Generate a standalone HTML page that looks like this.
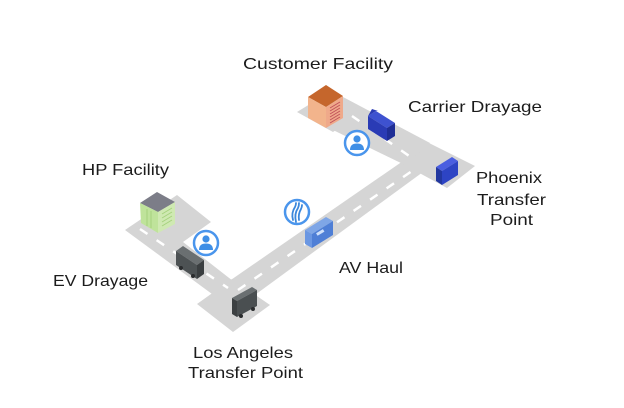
<!DOCTYPE html>
<html><head><meta charset="utf-8"><style>
html,body{margin:0;padding:0;background:#fff;}
svg{display:block;}
text{font-family:"Liberation Sans",Arial,sans-serif;font-size:16px;fill:#1c1c1c;}
</style></head><body>
<svg width="624" height="408" viewBox="0 0 624 408" xmlns="http://www.w3.org/2000/svg">
<rect width="624" height="408" fill="#fff"/>
<!-- roads & lots -->
<g fill="#d5d5d5">
  <polygon points="125,230 177,195 211,222 183,242 233,281 212,294"/>
  <polygon points="197,304 232,279 270,305 233,332"/>
  <polygon points="225,284 403,161 423,172 248,300"/>
  <polygon points="427,142 475,166 447,188 401,163"/>
  <polygon points="343,97 430,143 405,165 333,130"/>
  <polygon points="297,112 328,93 362,112 333,132"/>
</g>
<!-- dashes -->
<g stroke="#fff" stroke-width="2.5" fill="none" stroke-dasharray="9 11">
  <line x1="140" y1="229" x2="228" y2="288"/>
  <line x1="238" y1="290" x2="412" y2="171"/>
  <line x1="352" y1="116" x2="412" y2="158"/>
</g>
<!-- HP building -->
<polygon points="140,203 157,192 175,202 158,212" fill="#7c7d88"/>
<polygon points="140,203 158,212 158,233 141,223" fill="#bfe39b"/>
<polygon points="158,212 175,202 175,224 158,233" fill="#cfe9b2"/>
<g stroke="#a6d27e" stroke-width="1">
  <line x1="147" y1="209" x2="147" y2="226"/><line x1="151" y1="211" x2="151" y2="228"/>
  <line x1="162" y1="214" x2="172" y2="208"/><line x1="162" y1="218" x2="172" y2="212"/>
  <line x1="162" y1="222" x2="172" y2="216"/><line x1="162" y1="226" x2="172" y2="220"/>
</g>
<!-- Customer building -->
<polygon points="308,97 326,85 343,96 326,107" fill="#c5662c"/>
<polygon points="308,97 326,107 326,128 308,118" fill="#f2b48c"/>
<polygon points="326,107 343,96 343,118 326,128" fill="#efa98a"/>
<g stroke="#c0505a" stroke-width="0.9">
  <line x1="330" y1="108" x2="340" y2="102"/><line x1="330" y1="111" x2="340" y2="105"/>
  <line x1="330" y1="114" x2="340" y2="108"/><line x1="330" y1="117" x2="340" y2="111"/>
  <line x1="330" y1="120" x2="340" y2="114"/><line x1="330" y1="123" x2="340" y2="117"/>
</g>
<!-- EV truck (dark gray) -->
<polygon points="176,251 183,246 204,260 197,265" fill="#6a6f71"/>
<polygon points="176,251 197,265 197,279 176,265" fill="#4d5254"/>
<polygon points="197,265 204,260 204,274 197,279" fill="#3a3e40"/>
<circle cx="181" cy="268" r="2" fill="#2a2c2e"/><circle cx="193" cy="276" r="2" fill="#2a2c2e"/>
<!-- LA truck -->
<polygon points="232,298 252,287 257,290 237,301" fill="#6a6f71"/>
<polygon points="237,301 257,290 257,306 237,317" fill="#4a4f51"/>
<polygon points="232,298 237,301 237,317 232,314" fill="#3c4042"/>
<circle cx="241" cy="316" r="2" fill="#2a2c2e"/><circle cx="253" cy="309" r="2" fill="#2a2c2e"/>
<!-- AV truck (blue) -->
<polygon points="305,230 326,217 333,221 312,234" fill="#7fa6e6"/>
<polygon points="312,234 333,221 333,235 312,248" fill="#4f7fd6"/>
<polygon points="305,230 312,234 312,248 305,244" fill="#6b97e2"/>
<rect x="316" y="231" width="8" height="3" fill="#cfe0fa" transform="rotate(-31 320 232)"/>
<!-- Carrier truck (dark blue) -->
<polygon points="368,116 376,111 395,123 387,128" fill="#3e52d0"/>
<polygon points="368,116 387,128 387,141 368,129" fill="#2a3bb5"/>
<polygon points="387,128 395,123 395,136 387,141" fill="#1f2e96"/>
<polygon points="368,116 372,109 378,111 376,111" fill="#2a3bb5"/>
<!-- Phoenix truck -->
<polygon points="436,167 452,157 458,161 442,171" fill="#4a5ee0"/>
<polygon points="442,171 458,161 458,175 442,185" fill="#2d44c4"/>
<polygon points="436,167 442,171 442,185 436,181" fill="#22379f"/>
<!-- person icons -->
<g>
  <circle cx="206" cy="243" r="12" fill="#fff" stroke="#4a95ec" stroke-width="2.5"/>
  <circle cx="206" cy="239" r="3.6" fill="#3f8fe6"/>
  <path d="M199,250 Q199,243.5 206,243.5 Q213,243.5 213,250 Z" fill="#3f8fe6"/>
  <circle cx="357" cy="143" r="12" fill="#fff" stroke="#4a95ec" stroke-width="2.5"/>
  <circle cx="357" cy="139" r="3.6" fill="#3f8fe6"/>
  <path d="M350,150 Q350,143.5 357,143.5 Q364,143.5 364,150 Z" fill="#3f8fe6"/>
</g>
<!-- AV icon -->
<g>
  <circle cx="297" cy="212" r="12" fill="#fff" stroke="#4a95ec" stroke-width="2.5"/>
  <g stroke="#3a87dc" stroke-width="1.8" fill="none" stroke-linecap="round">
    <path d="M293,220 Q291,213 295,207 Q296,205 296,203"/>
    <path d="M296,222 Q294,214 298,208 Q299,206 299,203"/>
    <path d="M299,220 Q298,214 301,209 Q302,207 302,205"/>
  </g>
</g>
<!-- labels -->
<text x="243" y="69" textLength="150" lengthAdjust="spacingAndGlyphs">Customer Facility</text>
<text x="408" y="112" textLength="134" lengthAdjust="spacingAndGlyphs">Carrier Drayage</text>
<text x="82" y="175" textLength="87" lengthAdjust="spacingAndGlyphs">HP Facility</text>
<text x="476" y="183" textLength="66" lengthAdjust="spacingAndGlyphs">Phoenix</text>
<text x="477" y="205" textLength="69" lengthAdjust="spacingAndGlyphs">Transfer</text>
<text x="490" y="225" textLength="43" lengthAdjust="spacingAndGlyphs">Point</text>
<text x="53" y="286" textLength="95" lengthAdjust="spacingAndGlyphs">EV Drayage</text>
<text x="339" y="273" textLength="64" lengthAdjust="spacingAndGlyphs">AV Haul</text>
<text x="193" y="358" textLength="100" lengthAdjust="spacingAndGlyphs">Los Angeles</text>
<text x="188" y="378" textLength="115" lengthAdjust="spacingAndGlyphs">Transfer Point</text>
</svg>
</body></html>
